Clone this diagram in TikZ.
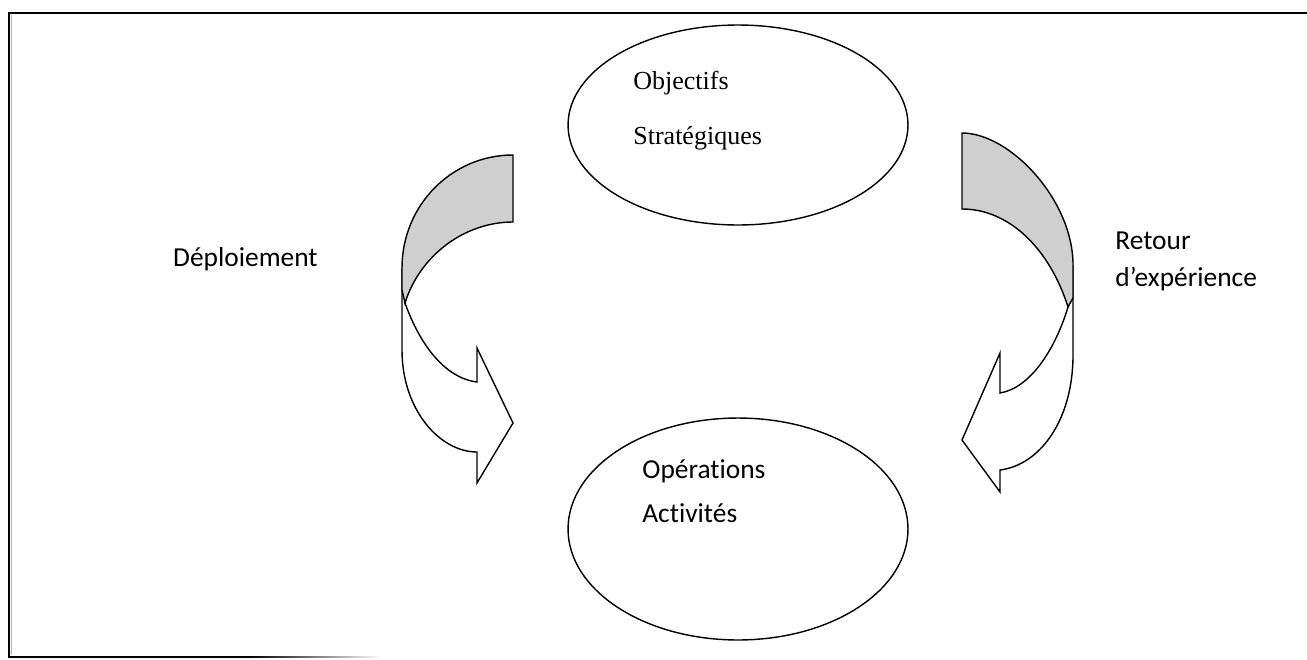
\documentclass[tikz,border=0pt]{standalone}
\usepackage{fontspec}
\setmainfont{Liberation Serif}
\newfontfamily\calibri[Ligatures={NoCommon}]{Carlito}
\usepackage{tikz}
\usetikzlibrary{shapes.geometric, positioning, calc}
\tikzset{
    oval_node/.style={ellipse, draw, line width=0.8pt, minimum width=6.8cm, inner sep=0pt},
    band_back/.style={draw, fill=gray!38, line width=0.8pt, line join=miter},
    band_front/.style={draw, fill=white, line width=0.8pt, line join=miter},
    txt_serif/.style={anchor=base west, inner sep=0pt, font=\fontsize{14.8}{17}\selectfont},
    txt_sans/.style={anchor=base west, inner sep=0pt, font=\calibri\fontsize{15.6}{18}\selectfont},
    frame_line/.style={line width=1.1pt}
}

\begin{document}
\begin{tikzpicture}[x=0.02cm, y=-0.02cm]
    \useasboundingbox (0,0) rectangle (1307,659);

    % cadre
    \draw [frame_line] (1307,13) -- (9,13) -- (9,657) -- (250,657);
    \shade [left color=black, right color=white] (250,656.2) rectangle (382,657.8);
    \draw [gray!60, line width=0.5pt] (11.5,15) -- (11.5,655);

    % ellipses
    \node (strat) [oval_node, minimum height=4cm] at (738,125) {};
    \node (oper) [oval_node, minimum height=4.44cm] at (738,529) {};

    \node (obj1) [txt_serif] at (633,89) {Objectifs};
    \node (obj2) [txt_serif] at (633,144) {Stratégiques};
    \node (op1) [txt_sans] at (642,478) {Opérations};
    \node (op2) [txt_sans] at (642,522) {Activités};

    % fleche de gauche
    \draw [band_front] (402,268) -- (402,350) .. controls (402,410) and (440,452) .. (477,452)
        -- (477,483) -- (513,423) -- (477,348) -- (477,382)
        .. controls (445,378) and (420,345) .. (405,303);
    \draw [band_back] (513,155) .. controls (452,155) and (402,205) .. (402,268) -- (402,290)
        -- (405,303) .. controls (420,255) and (465,222) .. (513,222) -- cycle;
    \node (deploi) [txt_sans, anchor=base east] at (318,266) {Déploiement};

    % fleche de droite
    \draw [band_front] (1073,265) -- (1073,355) .. controls (1073,420) and (1040,465) .. (1000,470)
        -- (1000,492) -- (962,440) -- (1000,353) -- (1000,393)
        .. controls (1030,388) and (1055,350) .. (1068,307);
    \draw [band_back] (962,133) .. controls (1010,133) and (1073,200) .. (1073,265) -- (1073,298)
        -- (1068,307) .. controls (1050,250) and (1010,209) .. (962,209) -- cycle;
    \node (retour1) [txt_sans] at (1115,249) {Retour};
    \node (retour2) [txt_sans] at (1115,286) {d’expérience};
\end{tikzpicture}
\end{document}
